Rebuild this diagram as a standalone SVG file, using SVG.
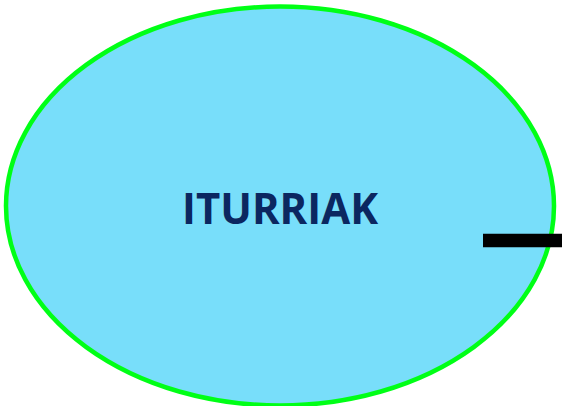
<svg xmlns="http://www.w3.org/2000/svg" width="562" height="406" viewBox="0 0 562 406">
  <style>
    .node-shape { fill: #78DEFA; stroke: #00FF16; stroke-width: 4.5; }
    .node-label { font-family: "Open Sans", "Liberation Sans", sans-serif; font-weight: bold; font-size: 43px; fill: #0B2760; }
    .connector { stroke: #000000; stroke-width: 13.5; fill: none; }
  </style>
  <g id="iturriak">
    <ellipse class="node-shape" cx="280" cy="206" rx="274" ry="199.5"/>
    <text class="node-label" x="280" y="224" text-anchor="middle" textLength="196" lengthAdjust="spacingAndGlyphs">ITURRIAK</text>
  </g>
  <g id="connectors">
    <line class="connector" x1="483" y1="240.5" x2="562" y2="240.5"/>
  </g>
</svg>
